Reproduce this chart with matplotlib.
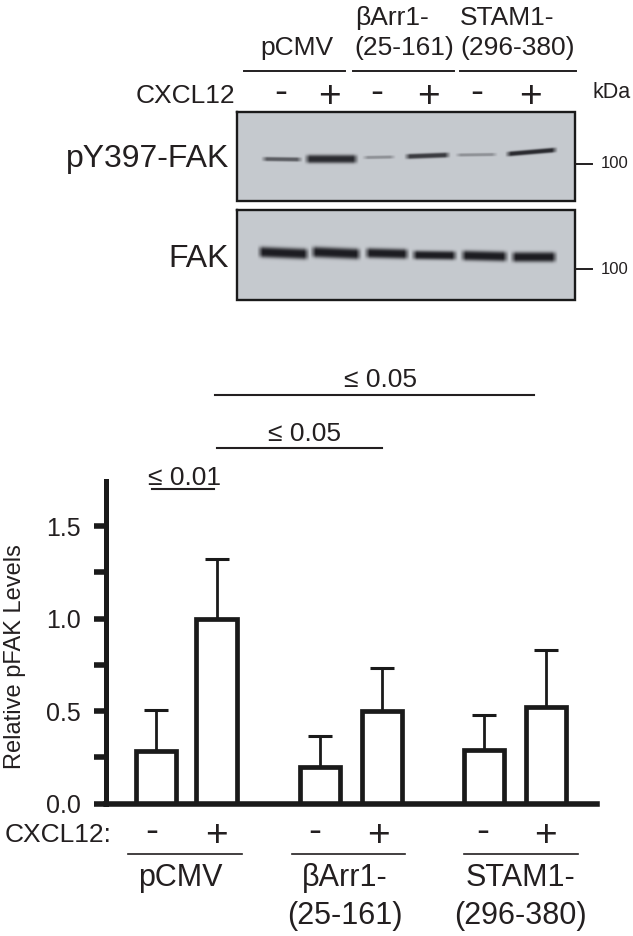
import numpy as np
import matplotlib
matplotlib.use("Agg")
import matplotlib.pyplot as plt

plt.rcParams['font.family'] = ['Liberation Sans', 'DejaVu Sans']

W, H = 633, 936
TXT = '#231f20'

# bar chart data
means = [0.285, 1.0, 0.2, 0.5, 0.29, 0.525]
uppers = [0.505, 1.323, 0.365, 0.735, 0.48, 0.83]
bar_x = [156, 216.5, 320, 382, 484, 546]
signs = ['-', '+', '-', '+', '-', '+']
groups = ['pCMV', 'βArr1-\n(25-161)', 'STAM1-\n(296-380)']

# blot bands: x start, x end, y start, y end, thickness, darkness
bands_p = [
    (264, 300, 159, 159.5, 2.2, 0.62),
    (307, 356, 159, 159, 4.2, 0.92),
    (365, 393, 157.5, 157, 1.7, 0.32),
    (407, 448, 156.5, 155, 2.6, 0.82),
    (458, 495, 155, 154.5, 1.7, 0.32),
    (508, 555, 154, 150, 2.5, 0.92),
]
bands_f = [
    (260, 307, 252, 254, 5.4, 1.0),
    (313, 359, 252, 254, 5.4, 1.0),
    (367, 407, 253, 254, 5.0, 1.0),
    (414, 455, 255, 255.5, 4.4, 1.0),
    (463, 506, 255.5, 256.5, 5.0, 1.0),
    (513, 555, 257, 257, 5.0, 1.0),
]


def blot(ov, x0, x1, y0, y1, bands):
    xx, yy = np.meshgrid(np.arange(x0, x1) + 0.5, np.arange(y0, y1) + 0.5)
    dark = np.zeros(xx.shape)
    for a, b, ya, yb, th, d in bands:
        yc = ya + (yb - ya) * (xx - a) / (b - a)
        across = np.exp(-np.abs((yy - yc) / th) ** 3)
        along = np.clip((xx - a + 3) / 6, 0, 1) * np.clip((b - xx + 3) / 6, 0, 1)
        dark = np.maximum(dark, d * across * along)
    bg = np.array([0.775, 0.79, 0.81])
    fg = np.array([0.11, 0.11, 0.13])
    img = bg + (fg - bg) * dark[..., None]
    ov.imshow(img, extent=(x0, x1, y1, y0), interpolation='bilinear', aspect='auto', zorder=1)
    ov.plot([x0, x1, x1, x0, x0], [y0, y0, y1, y1, y0], color='#1a1a1a', lw=1.7, zorder=2,
            solid_joinstyle='miter')


fig = plt.figure(figsize=(W / 100, H / 100), dpi=100)

# overlay in pixel coordinates for the blot and all annotations
ov = fig.add_axes([0, 0, 1, 1])
ov.axis('off')

blot(ov, 237, 575, 112, 201, bands_p)
blot(ov, 237, 575, 210, 300, bands_f)
ov.set_xlim(0, W)
ov.set_ylim(H, 0)

# header lines over the blot
for a, b in [(244, 345), (353, 454), (460, 576)]:
    ov.plot([a, b], [70.5, 70.5], color=TXT, lw=1.4)
ov.text(297, 55, 'pCMV', fontsize=19, ha='center', color=TXT)
ov.text(355, 25, 'βArr1-', fontsize=19, color=TXT)
ov.text(354, 55, '(25-161)', fontsize=19, color=TXT)
ov.text(460, 25, 'STAM1-', fontsize=19, color=TXT)
ov.text(460, 55, '(296-380)', fontsize=19, color=TXT)
ov.text(235, 103, 'CXCL12', fontsize=19, ha='right', color=TXT)
ov.text(593, 98, 'kDa', fontsize=15.5, color=TXT)

for s, x in zip(signs, [281, 329, 377, 428, 477, 530]):
    ov.text(x, 103 if s == '-' else 107, s, fontsize=28, ha='center', color=TXT)

ov.text(229, 167, 'pY397-FAK', fontsize=23, ha='right', color=TXT)
ov.text(229, 267, 'FAK', fontsize=23, ha='right', color=TXT)
for y in [163.5, 269]:
    ov.plot([576, 592], [y, y], color=TXT, lw=1.4)
    ov.text(601, y, '100', fontsize=12, va='center', color=TXT)

# significance lines
ov.plot([215, 534], [394.5, 394.5], color=TXT, lw=1.5)
ov.plot([217, 382], [447.5, 447.5], color=TXT, lw=1.5)
ov.plot([152, 214], [489, 489], color=TXT, lw=1.5)
ov.text(380, 387, '≤ 0.05', fontsize=19, ha='center', color=TXT)
ov.text(305, 441, '≤ 0.05', fontsize=19, ha='center', color=TXT)
ov.text(184, 485, '≤ 0.01', fontsize=19, ha='center', color=TXT)

# bar chart, x data is in figure pixels
ax = fig.add_axes([105.5 / W, 1 - 803.7 / H, (597 - 105.5) / W, (803.7 - 480.7) / H])
ax.patch.set_alpha(0)
ax.set_xlim(105.5, 597)
ax.set_ylim(0, 1.746)
ax.bar(bar_x, means, width=40.5, color='white', edgecolor='#1a1a1a', linewidth=3.4, zorder=3)
for x, m, u in zip(bar_x, means, uppers):
    ax.errorbar(x, m, yerr=[[0], [u - m]], color='#1a1a1a', elinewidth=2, capsize=8.3,
                capthick=2.2, zorder=2)
ax.spines['top'].set_visible(False)
ax.spines['right'].set_visible(False)
ax.spines['left'].set_linewidth(3.6)
ax.spines['bottom'].set_linewidth(4)
ax.spines['left'].set_color('#1a1a1a')
ax.spines['bottom'].set_color('#1a1a1a')
ax.spines['left'].set_zorder(5)
ax.spines['bottom'].set_zorder(5)
ax.set_xticks([])
ax.set_yticks([0, 0.5, 1.0, 1.5])
ax.set_yticks([0.25, 0.75, 1.25], minor=True)
ax.tick_params(axis='y', which='both', length=8.8, width=4, color='#1a1a1a')
ax.tick_params(axis='y', which='major', labelsize=18, pad=9, labelcolor=TXT)

ov.set_zorder(1)
ax.set_zorder(2)

ov.text(15, 657, 'Relative pFAK Levels', fontsize=17, rotation=90, ha='center', va='center',
        color=TXT)

# labels below the bars
ov.text(5, 842, 'CXCL12:', fontsize=19, color=TXT)
for s, x in zip(signs, [152, 216, 315, 378, 483, 545]):
    ov.text(x, 842 if s == '-' else 846, s, fontsize=28, ha='center', color=TXT)
for (a, b), cx, g in zip([(128, 242), (292, 405), (464, 578)], [180, 345, 520], groups):
    ov.plot([a, b], [854, 854], color=TXT, lw=1.2)
    for i, part in enumerate(g.split('\n')):
        ov.text(cx, 886 + 38 * i, part, fontsize=22, ha='center', color=TXT)

fig.savefig('out.png', dpi=100)
